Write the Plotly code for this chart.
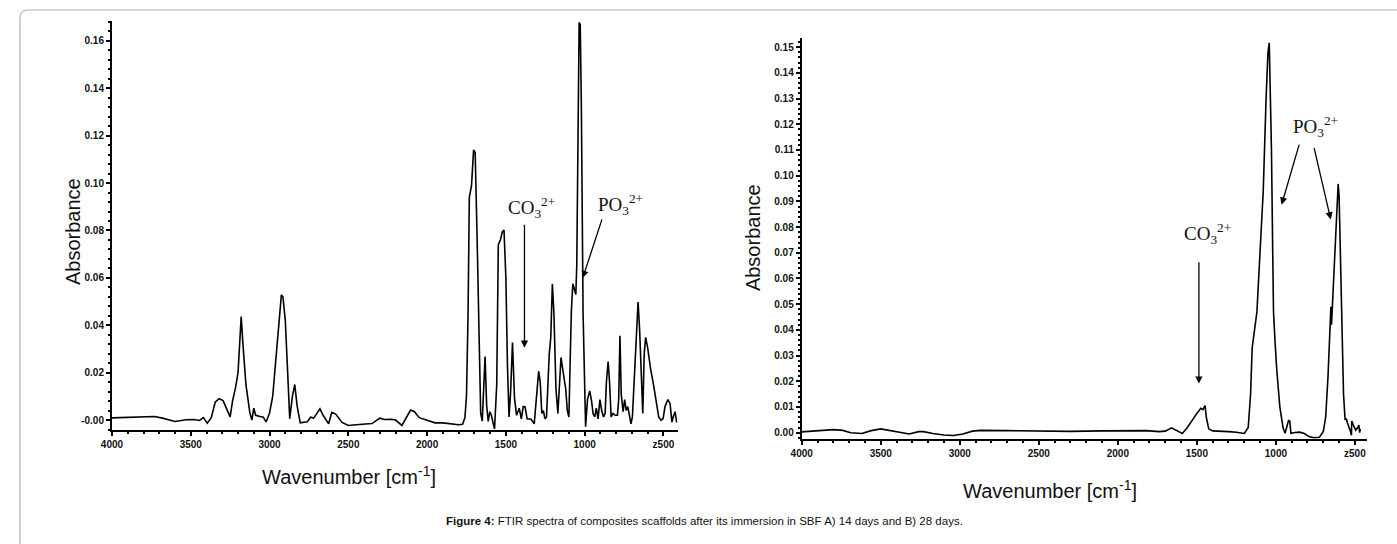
import plotly.graph_objects as go

# --- data: spectrum A (14 days) ---
wn_a = [4000, 3900, 3800, 3730, 3680, 3600, 3530, 3480, 3445, 3420, 3395, 3370, 3345, 3320, 3295,
        3270, 3250, 3235, 3215, 3200, 3190, 3180, 3170, 3150, 3125, 3112, 3100, 3088, 3060, 3040,
        3022, 3000, 2980, 2960, 2940, 2925, 2915, 2900, 2885, 2872, 2855, 2840, 2825, 2805, 2760,
        2740, 2720, 2700, 2680, 2660, 2625, 2605, 2580, 2540, 2500, 2450, 2400, 2350, 2300, 2270,
        2230, 2200, 2160, 2130, 2105, 2080, 2050, 2000, 1950, 1900, 1850, 1800, 1775, 1760, 1750,
        1740, 1732, 1718, 1705, 1695, 1682, 1668, 1660, 1650, 1640, 1632, 1622, 1612, 1602, 1592,
        1582, 1572, 1558, 1548, 1535, 1522, 1512, 1500, 1490, 1480, 1470, 1458, 1445, 1432, 1415,
        1402, 1390, 1378, 1365, 1340, 1320, 1305, 1292, 1282, 1272, 1262, 1252, 1242, 1232, 1225,
        1215, 1205, 1195, 1182, 1170, 1160, 1150, 1140, 1130, 1120, 1110, 1100, 1090, 1084, 1075,
        1062, 1056, 1050, 1042, 1035, 1028, 1021, 1010, 1000, 994, 982, 968, 956, 946, 936,
        926, 915, 903, 892, 880, 870, 862, 851, 842, 832, 820, 806, 792, 784, 776,
        768, 756, 746, 736, 726, 716, 706, 697, 683, 671, 661, 651, 641, 631, 622,
        613, 600, 582, 562, 546, 530, 515, 502, 490, 472, 458, 446, 438, 426, 416]
abs_a = [0.0009, 0.0011, 0.0013, 0.0015, 0.0008, -0.0006, 0.0001, 0.0002, -0.0002, 0.0010, -0.0013, 0.0010, 0.0075, 0.0090, 0.0082,
         0.0040, 0.0013, 0.0080, 0.0140, 0.0200, 0.0330, 0.0437, 0.0330, 0.0150, 0.0030, 0.0000, 0.0050, 0.0020, 0.0015, 0.0012,
         -0.0008, 0.0030, 0.0100, 0.0250, 0.0380, 0.0528, 0.0520, 0.0420, 0.0200, 0.0006, 0.0100, 0.0150, 0.0060, -0.0012, -0.0007,
         0.0012, 0.0008, 0.0030, 0.0047, 0.0020, -0.0016, 0.0032, 0.0025, -0.0010, -0.0023, -0.0020, -0.0017, -0.0015, 0.0008, 0.0002,
         0.0003, 0.0000, -0.0023, 0.0010, 0.0042, 0.0035, 0.0010, -0.0001, -0.0012, -0.0012, -0.0015, -0.0020, -0.0018, 0.0010, 0.0100,
         0.0450, 0.0940, 0.0990, 0.1140, 0.1130, 0.0750, 0.0200, 0.0030, -0.0005, 0.0150, 0.0268, 0.0060, -0.0006, 0.0035, 0.0020,
         -0.0010, -0.0038, 0.0150, 0.0740, 0.0760, 0.0795, 0.0802, 0.0600, 0.0230, 0.0013, 0.0120, 0.0327, 0.0090, 0.0020, 0.0050,
         0.0005, 0.0057, 0.0055, 0.0005, 0.0003, -0.0016, 0.0110, 0.0206, 0.0160, 0.0028, 0.0040, 0.0005, 0.0013, 0.0160, 0.0276,
         0.0349, 0.0575, 0.0450, 0.0130, 0.0028, 0.0170, 0.0264, 0.0218, 0.0174, 0.0130, 0.0040, 0.0013, 0.0305, 0.0466, 0.0575,
         0.0540, 0.0530, 0.0655, 0.1254, 0.1678, 0.1670, 0.1327, 0.0450, 0.0042, -0.0028, 0.0086, 0.0123, 0.0080, 0.0025, 0.0013,
         0.0050, 0.0005, 0.0086, 0.0040, 0.0013, 0.0028, 0.0160, 0.0247, 0.0160, 0.0013, 0.0028, 0.0020, 0.0020, 0.0086, 0.0356,
         0.0110, 0.0035, 0.0086, 0.0040, 0.0057, 0.0020, -0.0016, 0.0013, 0.0230, 0.0393, 0.0498, 0.0380, 0.0160, 0.0028, 0.0280,
         0.0349, 0.0305, 0.0218, 0.0145, 0.0070, 0.0013, -0.0001, 0.0006, 0.0057, 0.0086, 0.0070, -0.0009, 0.0013, 0.0035, -0.0010]

# --- data: spectrum B (28 days) ---
wn_b = [4000, 3900, 3800, 3740, 3690, 3620, 3560, 3500, 3440, 3380, 3320, 3260, 3230, 3170, 3100,
        3040, 2980, 2920, 2870, 2700, 2500, 2300, 2100, 1900, 1820, 1740, 1700, 1660, 1630, 1592,
        1560, 1530, 1500, 1475, 1462, 1448, 1440, 1425, 1400, 1300, 1250, 1200, 1175, 1160, 1150,
        1120, 1100, 1080, 1062, 1050, 1042, 1035, 1028, 1020, 1015, 1005, 995, 975, 955, 942,
        930, 920, 912, 905, 880, 850, 820, 790, 760, 725, 700, 685, 670, 658, 652,
        648, 642, 632, 620, 606, 600, 592, 582, 572, 562, 555, 548, 538, 528, 522,
        520, 510, 495, 482, 475, 470, 466]
abs_b = [0.0003, 0.0008, 0.0012, 0.0009, 0.0000, -0.0003, 0.0008, 0.0015, 0.0009, 0.0002, -0.0005, 0.0004, 0.0004, -0.0003, -0.0009,
         -0.0011, -0.0005, 0.0006, 0.0009, 0.0008, 0.0006, 0.0005, 0.0007, 0.0009, 0.0008, 0.0004, 0.0006, 0.0019, 0.0010, -0.0003,
         0.0020, 0.0050, 0.0075, 0.0095, 0.0090, 0.0105, 0.0060, 0.0015, 0.0007, 0.0004, 0.0002, -0.0003, 0.0020, 0.0150, 0.0330,
         0.0470, 0.0700, 0.0940, 0.1300, 0.1480, 0.1517, 0.1350, 0.1100, 0.0700, 0.0470, 0.0350, 0.0250, 0.0100, 0.0020, -0.0002,
         0.0030, 0.0047, 0.0045, -0.0002, 0.0001, 0.0002, -0.0003, -0.0015, -0.0020, -0.0018, 0.0005, 0.0060, 0.0220, 0.0400, 0.0490,
         0.0420, 0.0500, 0.0640, 0.0800, 0.0968, 0.0920, 0.0700, 0.0400, 0.0150, 0.0050, 0.0055, 0.0040, 0.0025, 0.0005, -0.0010,
         0.0045, 0.0030, 0.0010, 0.0020, 0.0030, 0.0000, 0.0015]

x_ticks = [4000, 3500, 3000, 2500, 2000, 1500, 1000, 500]
x_ticktext = ["4000", "3500", "3000", "2500", "2000", "1500", "1000", "z500"]
y_ticks_a = [0.0, 0.02, 0.04, 0.06, 0.08, 0.10, 0.12, 0.14, 0.16]
y_ticktext_a = ["-0.00", "0.02", "0.04", "0.06", "0.08", "0.10", "0.12", "0.14", "0.16"]
y_ticks_b = [i / 100 for i in range(16)]
y_ticktext_b = ["%.2f" % v for v in y_ticks_b]

W, H = 1397, 544
tickfont = dict(family="Liberation Sans Narrow, Arial Narrow, Liberation Sans", size=10, color="#111", weight="bold")
serif = dict(family="Liberation Serif, Times New Roman, serif", size=19, color="#111")
title_font = dict(family="Liberation Sans, Arial", size=20, color="#111")

fig = go.Figure()
fig.add_trace(go.Scatter(x=wn_a, y=abs_a, mode="lines", line=dict(color="black", width=1.6),
                         showlegend=False, xaxis="x", yaxis="y"))
fig.add_trace(go.Scatter(x=wn_b, y=abs_b, mode="lines", line=dict(color="black", width=1.6),
                         showlegend=False, xaxis="x2", yaxis="y2"))

axis_common = dict(showgrid=False, zeroline=False, showline=True, linecolor="black", linewidth=2,
                   ticks="outside", ticklen=4, tickwidth=1.5, tickcolor="black", tickfont=tickfont)

fig.update_layout(
    width=W, height=H, margin=dict(l=0, r=0, t=0, b=0),
    paper_bgcolor="white", plot_bgcolor="white",
    xaxis=dict(domain=[101.8 / W, 671.9 / W], range=[4000, 410], anchor="y",
               tickvals=x_ticks, ticktext=x_ticktext,
               minor=dict(dtick=100, ticks="outside", ticklen=2, tickcolor="black"), **axis_common),
    yaxis=dict(domain=[1 - 429.5 / H, 1 - 20.8 / H], range=[-0.004, 0.1685], anchor="x",
               tickvals=y_ticks_a, ticktext=y_ticktext_a,
               minor=dict(dtick=0.004, ticks="outside", ticklen=2, tickcolor="black"), **axis_common),
    xaxis2=dict(domain=[797 / W, 1367 / W], range=[4000, 422], anchor="y2",
                tickvals=x_ticks, ticktext=x_ticktext,
                minor=dict(dtick=100, ticks="outside", ticklen=2, tickcolor="black"), **axis_common),
    yaxis2=dict(domain=[1 - 438.5 / H, 1 - 38.2 / H], range=[-0.00226, 0.1535], anchor="x2",
                tickvals=y_ticks_b, ticktext=y_ticktext_b,
                minor=dict(dtick=0.002, ticks="outside", ticklen=2, tickcolor="black"), **axis_common),
)

ion_co = "CO<sub>3</sub><sup>2+</sup>"
ion_po = "PO<sub>3</sub><sup>2+</sup>"
centered = dict(xanchor="center", yanchor="middle", showarrow=False)
annotations = [
    # axis titles
    dict(text="Absorbance", x=62.5 / W, y=1 - 232 / H, xref="paper", yref="paper", textangle=-90,
         font=title_font, **centered),
    dict(text="Wavenumber [cm<sup>-1</sup>]", x=341 / W, y=1 - 475 / H, xref="paper", yref="paper",
         font=title_font, **centered),
    dict(text="Absorbance", x=748 / W, y=1 - 238 / H, xref="paper", yref="paper", textangle=-90,
         font=title_font, **centered),
    dict(text="Wavenumber [cm<sup>-1</sup>]", x=1047 / W, y=1 - 489 / H, xref="paper", yref="paper",
         font=title_font, **centered),
    # caption
    dict(text="<b>Figure 4:</b> FTIR spectra of composites scaffolds after its immersion in SBF A) 14 days and B) 28 days.",
         x=0.5, y=1 - 521 / H, xref="paper", yref="paper",
         font=dict(family="Liberation Sans, Arial", size=11.5, color="#111"), **centered),
    # ion labels, chart A
    dict(text=ion_co, x=1335, y=0.0896, xref="x", yref="y", font=serif, **centered),
    dict(text=ion_po, x=774, y=0.0911, xref="x", yref="y", font=serif, **centered),
    # ion labels, chart B
    dict(text=ion_co, x=1431, y=0.0777, xref="x2", yref="y2", font=serif, **centered),
    dict(text=ion_po, x=749, y=0.1191, xref="x2", yref="y2", font=serif, **centered),
]
arrows = [
    ("x", "y", 1382, 0.083, 1382, 0.0305),
    ("x", "y", 887, 0.0853, 1012, 0.0600),
    ("x2", "y2", 1487, 0.0669, 1487, 0.0191),
    ("x2", "y2", 850, 0.1127, 964, 0.0887),
    ("x2", "y2", 760, 0.1113, 653, 0.083),
]
for xr, yr, x0, y0, x1, y1 in arrows:
    annotations.append(dict(text="", x=x1, y=y1, ax=x0, ay=y0, xref=xr, yref=yr, axref=xr, ayref=yr,
                            showarrow=True, arrowhead=2, arrowsize=1.1, arrowwidth=1.3, arrowcolor="black"))
fig.update_layout(annotations=annotations)

# rounded frame around the figure (top-left corner visible)
x0, y0, r = 9 / W, 1 - 10 / H, 8
fig.add_shape(type="path", xref="paper", yref="paper",
              path=f"M {x0},-0.05 L {x0},{y0 - r / H} Q {x0},{y0} {x0 + r / W},{y0} L 1.05,{y0}",
              line=dict(color="#b0b0b0", width=1.2))

# drop the browser's default body margin so the figure sits at the page origin
fig.write_html("out.html", config={"displayModeBar": False},
               post_script="document.body.style.margin='0px';")
